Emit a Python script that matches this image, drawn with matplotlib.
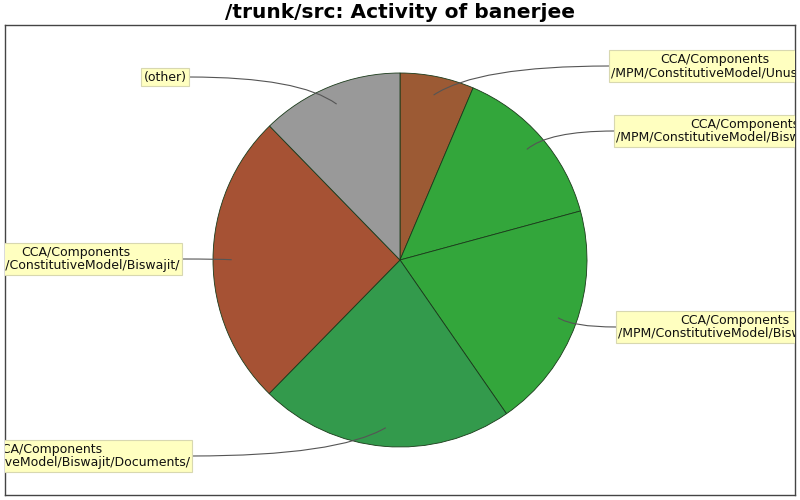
import matplotlib
matplotlib.use("Agg")
import matplotlib.pyplot as plt
import numpy as np
from matplotlib.path import Path
from matplotlib.patches import PathPatch

# ---- data ----
labels = [
    "CCA/Components\n/MPM/ConstitutiveModel/Unused/",
    "CCA/Components\n/MPM/ConstitutiveModel/Biswajit/Models/",
    "CCA/Components\n/MPM/ConstitutiveModel/Biswajit/Old/",
    "CCA/Components\n/MPM/ConstitutiveModel/Biswajit/Documents/",
    "CCA/Components\n/MPM/ConstitutiveModel/Biswajit/",
    "(other)",
]
values = [6.4, 14.4, 19.6, 22.0, 25.4, 12.3]
colors = ["#9c5a34", "#33a63b", "#33a63b", "#339a4c", "#a65234", "#999999"]

# label layout (pixel coords from top-left: x of box edge, y center, side)
label_pos = [(609, 66, "R"), (614, 131, "R"), (616, 327, "R"),
             (192, 456, "L"), (182, 259, "L"), (189, 77, "L")]

W, H = 800, 500
fig = plt.figure(figsize=(8, 5), dpi=100)
ax = fig.add_axes([5 / W, 5 / H, 790 / W, 470 / H])

cx, cy, R = 400, H - 260, 187
wedges, _ = ax.pie(values, colors=colors, startangle=90, counterclock=False,
                   center=(cx, cy), radius=R, frame=True,
                   wedgeprops=dict(edgecolor="#1a3a1a", linewidth=0.6))
ax.set_xlim(5, 795)
ax.set_ylim(5, 475)
ax.set_aspect("equal")
ax.set_xticks([])
ax.set_yticks([])
for s in ax.spines.values():
    s.set_color("#444444")
    s.set_linewidth(1.0)

fs = 9
pad = 2.5
for w, lab, (bx, by, side) in zip(wedges, labels, label_pos):
    mid = np.deg2rad((w.theta1 + w.theta2) / 2)
    ax_x = cx + 0.9 * R * np.cos(mid)
    ax_y = cy + 0.9 * R * np.sin(mid)
    y = H - by
    p0 = (bx, y)
    ctrl = (bx + 0.75 * (ax_x - bx), y)
    path = Path([p0, ctrl, (ax_x, ax_y)], [Path.MOVETO, Path.CURVE3, Path.CURVE3])
    ax.add_patch(PathPatch(path, fill=False, edgecolor="#555555", linewidth=0.8, zorder=5))
    if side == "R":
        tx, ha = bx + pad, "left"
    else:
        tx, ha = bx - pad, "right"
    ax.text(tx, y, lab, ha=ha, va="center", multialignment="center",
            fontsize=fs, color="#111111", linespacing=1.05, clip_on=True, zorder=6,
            bbox=dict(boxstyle="square,pad=0.2", facecolor="#ffffc0",
                      edgecolor="#d8d8b0", linewidth=0.8))

fig.text(0.5, 1 - 13 / H, "/trunk/src: Activity of banerjee", ha="center", va="center",
         fontsize=14.5, fontweight="bold")

fig.savefig("out.png", dpi=100)
